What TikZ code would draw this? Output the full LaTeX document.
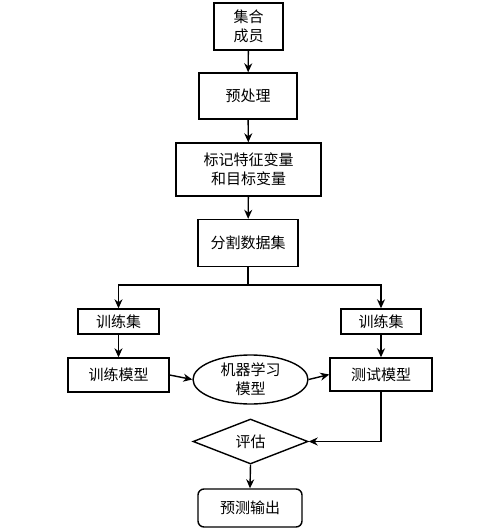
\documentclass[tikz,border=0pt]{standalone}
\usepackage{fontspec}
\setmainfont{Noto Sans CJK SC}
\usetikzlibrary{shapes.geometric,arrows.meta}
\begin{document}
\begin{tikzpicture}[x=1pt,y=-1pt,
  every node/.style={font=\fontsize{15}{19}\selectfont, inner sep=0pt, align=center},
  box/.style={draw, line width=1.4pt, minimum width=#1},
  arr/.style={line width=1.4pt, -{Stealth[length=9pt,width=8pt]}},
  ln/.style={line width=1.4pt}]
\useasboundingbox (0,0) rectangle (500,531);
\node[box, minimum width=69pt, minimum height=47pt] (a) at (248.5,26.5) {集合\\成员};
\node[box, minimum width=98pt, minimum height=46pt] (b) at (248,96) {预处理};
\node[box, minimum width=145pt, minimum height=53pt] (c) at (248.5,169.5) {标记特征变量\\和目标变量};
\node[box, minimum width=100pt, minimum height=47pt] (d) at (248,243) {分割数据集};
\coordinate (j) at (248,285);
\coordinate (jl) at (118.5,285);
\coordinate (jr) at (381,285);
\node[box, minimum width=81pt, minimum height=25pt] (e) at (118.5,321.5) {训练集};
\node[box, minimum width=80pt, minimum height=25pt] (f) at (381,321.5) {训练集};
\node[box, minimum width=101pt, minimum height=34pt] (g) at (118.5,375) {训练模型};
\node[draw, line width=1.4pt, ellipse, minimum width=115pt, minimum height=49pt] (h) at (250.5,379.5) {机器学习\\模型};
\node[box, minimum width=102pt, minimum height=33pt] (i) at (381,374.5) {测试模型};
\node[draw, line width=1.4pt, diamond, aspect=2.55, minimum width=115pt, minimum height=45pt] (k) at (250.5,441.5) {评估};
\node[draw, line width=1.4pt, rounded corners=6pt, minimum width=104pt, minimum height=38pt] (l) at (250,508) {预测输出};
\draw[arr] (a) -- (b);
\draw[arr] (b) -- (c);
\draw[arr] (c) -- (d);
\draw[ln] (d.south) -- (j);
\draw[arr] (j) -- (jl) -- (e.north);
\draw[arr] (j) -- (jr) -- (f.north);
\draw[arr] (e) -- (g);
\draw[arr] (f) -- (i);
\draw[arr] (g.east) -- (h.west);
\draw[arr] (h.east) -- (i.west);
\draw[arr] (i.south) |- (k.east);
\draw[arr] (k.south) -- (l.north);
\end{tikzpicture}
\end{document}
